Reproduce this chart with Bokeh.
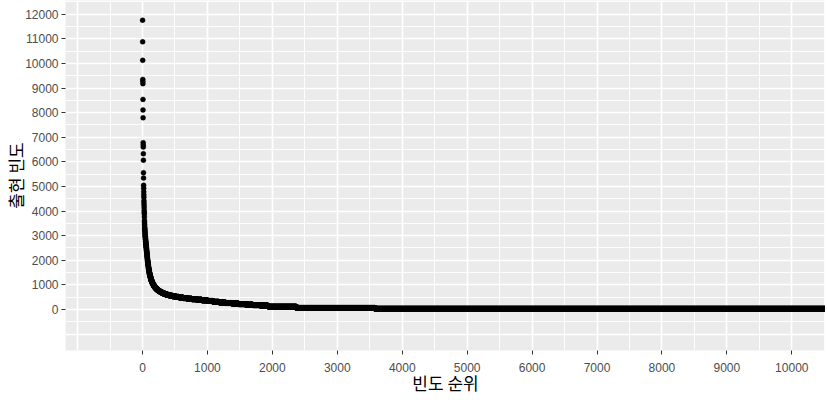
from bokeh.plotting import figure
from bokeh.models import Range1d, FixedTicker, ColumnDataSource
from bokeh.embed import file_html
from bokeh.resources import INLINE

# individually readable points (rank, frequency)
head_rank = list(range(1, 34))
head_freq = [11760, 10880, 10130, 9350, 9270, 9180, 8540, 8110, 7790, 6780,
             6680, 6600, 6330, 6070, 5560, 5340, 5050, 4930, 4780, 4660,
             4560, 4420, 4330, 4240, 4130, 4020, 3940, 3880, 3760, 3620,
             3540, 3460, 3390]

# run table of the dense part: each run covers ranks [start, next start) with one frequency
run_start = [34, 36, 38, 40, 42, 45, 48, 51, 54, 57, 60, 63, 66, 69, 72,
             75, 78, 82, 86, 90, 94, 99, 104, 110, 116, 123, 130, 138, 147, 157,
             168, 180, 193, 207, 223, 241, 261, 284, 309, 339, 374, 414, 459, 509, 564,
             624, 689, 759, 834, 914, 999, 1089, 1179, 1274, 1374, 1479, 1589, 1699, 1809, 1929,
             1940, 2372, 3584]
run_freq = [3300, 3210, 3120, 3030, 2950, 2860, 2770, 2690, 2610, 2530, 2450, 2370, 2290, 2210, 2130,
            2050, 1970, 1890, 1810, 1730, 1650, 1570, 1490, 1420, 1350, 1280, 1210, 1150, 1090, 1030,
            980, 930, 880, 840, 800, 760, 725, 690, 655, 620, 590, 560, 535, 510, 485,
            460, 435, 415, 395, 370, 345, 310, 285, 260, 240, 215, 195, 175, 160, 140,
            110, 60, 25]
last_rank = 10600

x_ticks = [0, 1000, 2000, 3000, 4000, 5000, 6000, 7000, 8000, 9000, 10000]
y_ticks = [0, 1000, 2000, 3000, 4000, 5000, 6000, 7000, 8000, 9000, 10000, 11000, 12000]
x_title = "빈도 순위"
y_title = "출현 빈도"

xs = list(head_rank)
ys = list(head_freq)
ends = run_start[1:] + [last_rank + 1]
for s, e, f in zip(run_start, ends, run_freq):
    for r in range(s, e):
        xs.append(r)
        ys.append(f)
src = ColumnDataSource(dict(rank=xs, freq=ys))

x0, x1 = -1186, 10519
y0, y1 = -1670, 12560
p = figure(frame_width=760, frame_height=350, output_backend="svg", toolbar_location=None,
           x_range=Range1d(x0, x1), y_range=Range1d(y0, y1),
           min_border_left=59, min_border_right=0, min_border_top=0, min_border_bottom=0)
p.background_fill_color = "#EBEBEB"
p.border_fill_color = "white"
p.outline_line_color = None

p.xaxis.ticker = FixedTicker(ticks=x_ticks)
p.yaxis.ticker = FixedTicker(ticks=y_ticks)
p.xgrid.ticker = FixedTicker(ticks=[-1000] + x_ticks,
                             minor_ticks=[-500 + 1000 * i for i in range(12)])
p.ygrid.ticker = FixedTicker(ticks=[-1000] + y_ticks,
                             minor_ticks=[-500 + 1000 * i for i in range(14)])
for g in (p.xgrid, p.ygrid):
    g.grid_line_color = "white"
    g.grid_line_width = 1.6
    g.minor_grid_line_color = "white"
    g.minor_grid_line_width = 0.9

for ax in (p.xaxis, p.yaxis):
    ax.axis_line_color = None
    ax.major_tick_line_color = "#333333"
    ax.major_tick_in = 0
    ax.major_tick_out = 4
    ax.minor_tick_line_color = None
    ax.major_label_text_font = "Liberation Sans"
    ax.major_label_text_font_size = "12px"
    ax.major_label_text_color = "#4D4D4D"
    ax.axis_label_text_font = "Noto Sans CJK KR"
    ax.axis_label_text_font_size = "17px"
    ax.axis_label_text_font_style = "normal"
    ax.axis_label_text_color = "black"

p.xaxis.axis_label = x_title
p.yaxis.axis_label = y_title
p.xaxis.major_label_standoff = 8
p.xaxis.axis_label_standoff = -5
p.yaxis.major_label_standoff = 3
p.yaxis.axis_label_standoff = -6

p.scatter("rank", "freq", source=src, size=5, fill_color="black",
          line_color="black", line_width=0.4)

open("out.html", "w").write(file_html(p, INLINE))
